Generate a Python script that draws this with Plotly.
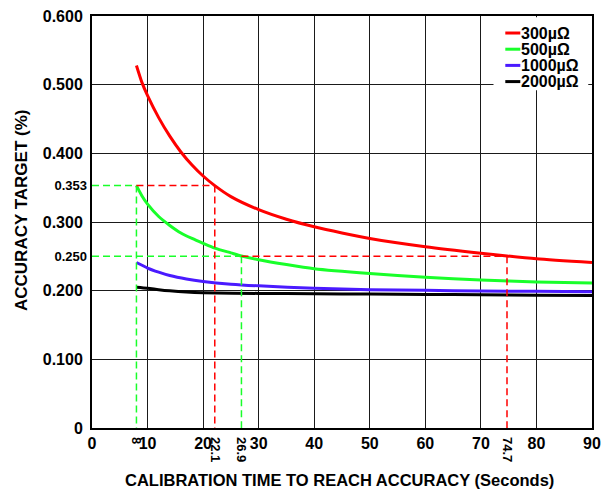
import plotly.graph_objects as go

# ---- data ----
series_names = ["300µΩ", "500µΩ", "1000µΩ", "2000µΩ"]
series_colors = ["#ff0000", "#19ff2a", "#4a1aff", "#000000"]

x_300 = [8, 9, 10, 12, 14, 16, 18, 20, 22.1, 25, 30, 35, 40, 45, 50, 60, 70, 74.7, 80, 90]
y_300 = [0.528, 0.503, 0.484, 0.452, 0.425, 0.402, 0.383, 0.367, 0.353, 0.337, 0.318, 0.304, 0.293, 0.284, 0.276, 0.264, 0.2545, 0.2505, 0.2465, 0.241]

x_500 = [8, 9, 10, 12, 14, 16, 18, 20, 22.1, 25, 26.9, 30, 35, 40, 50, 60, 70, 80, 90]
y_500 = [0.353, 0.338, 0.326, 0.308, 0.295, 0.284, 0.276, 0.269, 0.262, 0.255, 0.2505, 0.245, 0.238, 0.232, 0.225, 0.2195, 0.2155, 0.2127, 0.211]

x_1000 = [8, 9, 10, 12, 14, 17, 20, 25, 30, 40, 50, 60, 70, 80, 90]
y_1000 = [0.241, 0.237, 0.233, 0.227, 0.222, 0.217, 0.2135, 0.2095, 0.207, 0.2035, 0.2015, 0.2005, 0.1995, 0.199, 0.1985]

x_2000 = [8, 10, 12, 14, 17, 20, 30, 40, 50, 60, 70, 80, 90]
y_2000 = [0.205, 0.2035, 0.2015, 0.1998, 0.198, 0.197, 0.196, 0.1955, 0.195, 0.1945, 0.194, 0.1935, 0.193]

# reference markers: accuracy target, and times for 500µΩ (green) and 300µΩ (red)
ref_targets = [0.353, 0.250]
ref_times_green = [8, 26.9]
ref_times_red = [22.1, 74.7]

x_tick_vals = [0, 10, 20, 30, 40, 50, 60, 70, 80, 90]
x_tick_text = ["0", "10", "20", "30", "40", "50", "60", "70", "80", "90"]
y_tick_vals = [0, 0.1, 0.2, 0.3, 0.4, 0.5, 0.6]
y_tick_text = ["0", "0.100", "0.200", "0.300", "0.400", "0.500", "0.600"]
x_extra_vals = [8, 22.1, 26.9, 74.7]
x_extra_text = ["8", "22.1", "26.9", "74.7"]
y_extra_vals = [0.250, 0.353]
y_extra_text = ["0.250", "0.353"]

X_RANGE = [0, 90]
Y_RANGE = [0, 0.6]
FONT = "Liberation Sans, Arial, sans-serif"
GREEN = "#19ff2a"
RED = "#ff0000"

fig = go.Figure()

# dashed guide lines (built from the reference arrays)
gx, gy, rx, ry = [], [], [], []
for t, tg, tr in zip(ref_targets, ref_times_green, ref_times_red):
    gx += [0, tg, None, tg, tg, None]
    gy += [t, t, None, t, 0, None]
    rx += [tg, tr, None, tr, tr, None]
    ry += [t, t, None, t, 0, None]

fig.add_trace(go.Scatter(x=gx, y=gy, mode="lines", xaxis="x2", yaxis="y2",
                         line=dict(color=GREEN, width=1.5, dash="7px,4px"),
                         showlegend=False, hoverinfo="skip"))
fig.add_trace(go.Scatter(x=rx, y=ry, mode="lines", xaxis="x2", yaxis="y2",
                         line=dict(color=RED, width=1.5, dash="7px,4px"),
                         showlegend=False, hoverinfo="skip"))

for name, color, xs, ys in zip(series_names, series_colors,
                               [x_300, x_500, x_1000, x_2000],
                               [y_300, y_500, y_1000, y_2000]):
    fig.add_trace(go.Scatter(x=xs, y=ys, mode="lines", name=name, showlegend=False,
                             line=dict(color=color, width=3, shape="spline", smoothing=0.7)))

# ---- custom compact legend (top right, white box over the grid) ----
shapes = [dict(type="rect", xref="paper", yref="paper", layer="above",
               x0=0.803, x1=0.9925, y0=0.820, y1=0.997,
               fillcolor="white", line=dict(width=0))]
annotations = []
row_top, row_step = 0.9587, 0.0393
for i, (name, color) in enumerate(zip(series_names, series_colors)):
    yy = row_top - i * row_step
    shapes.append(dict(type="line", xref="paper", yref="paper", layer="above",
                       x0=0.8266, x1=0.8566, y0=yy, y1=yy,
                       line=dict(color=color, width=3)))
    annotations.append(dict(xref="paper", yref="paper", x=0.8546, y=yy,
                            xanchor="left", yanchor="middle", showarrow=False,
                            text=name,
                            font=dict(family=FONT, size=16, weight="bold", color="black")))

# axis titles
annotations.append(dict(xref="paper", yref="paper", x=0.4946, y=-0.126,
                        xanchor="center", yanchor="middle", showarrow=False,
                        text="CALIBRATION TIME TO REACH ACCURACY (Seconds)",
                        font=dict(family=FONT, size=16.5, weight="bold", color="black")))
annotations.append(dict(xref="paper", yref="paper", x=-0.140, y=0.5267,
                        xanchor="center", yanchor="middle", showarrow=False,
                        textangle=-90, text="ACCURACY TARGET (%)",
                        font=dict(family=FONT, size=17, weight="bold", color="black")))

fig.update_layout(
    width=603, height=490,
    margin=dict(l=92, r=11, t=16, b=62),
    paper_bgcolor="white", plot_bgcolor="white",
    font=dict(family=FONT, color="black"),
    showlegend=False,
    shapes=shapes,
    annotations=annotations,
    xaxis=dict(range=X_RANGE, tickvals=x_tick_vals, ticktext=x_tick_text,
               showgrid=True, gridcolor="#1a1a1a", gridwidth=1.3,
               showline=True, linecolor="black", linewidth=2, mirror=True,
               ticks="", zeroline=False, automargin=False, ticklabeloverflow="allow",
               tickfont=dict(family=FONT, size=16, weight="bold")),
    yaxis=dict(range=Y_RANGE, tickvals=y_tick_vals, ticktext=y_tick_text,
               showgrid=True, gridcolor="#1a1a1a", gridwidth=1.3,
               showline=True, linecolor="black", linewidth=2, mirror=True,
               ticks="", zeroline=False, automargin=False, ticklabeloverflow="allow",
               ticklabelstandoff=4,
               tickfont=dict(family=FONT, size=16, weight="bold")),
    xaxis2=dict(range=X_RANGE, overlaying="x", side="bottom", anchor="y2",
                tickvals=x_extra_vals, ticktext=x_extra_text, tickangle=90,
                showgrid=False, showline=False, zeroline=False, ticks="",
                automargin=False, ticklabelstandoff=8,
                tickfont=dict(family=FONT, size=13, weight="bold")),
    yaxis2=dict(range=Y_RANGE, overlaying="y", side="left", anchor="x2",
                tickvals=y_extra_vals, ticktext=y_extra_text,
                showgrid=False, showline=False, zeroline=False, ticks="",
                automargin=False, ticklabelstandoff=4,
                tickfont=dict(family=FONT, size=13, weight="bold")),
)

# remove the default 8px page margin so the 603x490 figure fills the window exactly
fig.write_html("out.html",
               config={"displayModeBar": False},
               post_script="document.body.style.margin='0';document.body.style.overflow='hidden';")
